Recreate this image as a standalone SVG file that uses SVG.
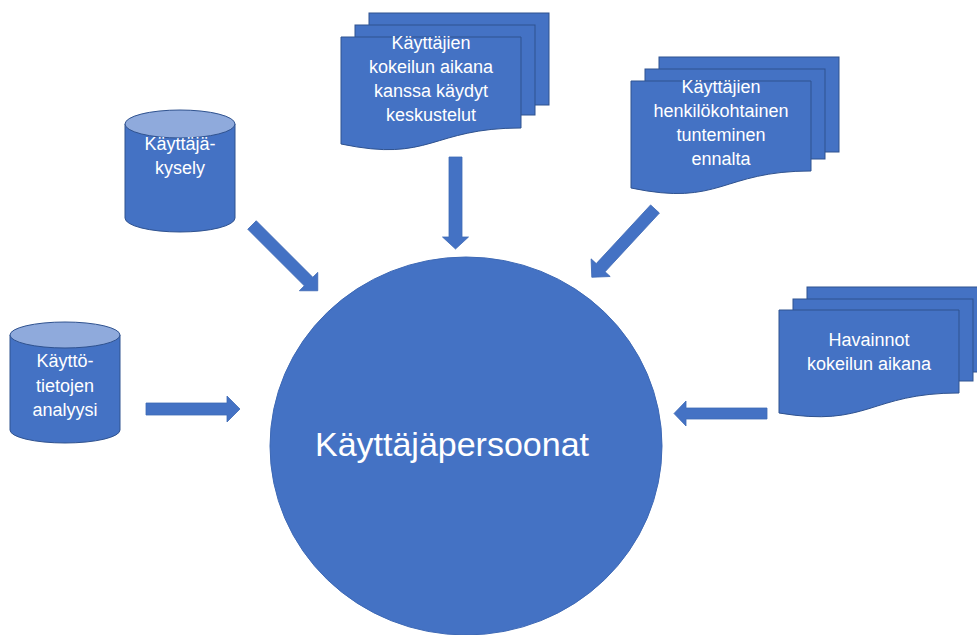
<svg xmlns="http://www.w3.org/2000/svg" width="977" height="635" viewBox="0 0 977 635">
  <style>
    .shape { fill: #4472C4; stroke: #2F528F; stroke-width: 1; }
    .cap { fill: #8FAADC; stroke: #2F528F; stroke-width: 1; }
    .hub { fill: #4472C4; stroke: #3E69B5; stroke-width: 1; }
    .arrow { fill: #4472C4; stroke: #3E69B5; stroke-width: 0.8; }
    .label { fill: #FFFFFF; font-family: "Liberation Sans", Arial, sans-serif; font-size: 18px; text-anchor: middle; }
    .title { fill: #FFFFFF; font-family: "Liberation Sans", Arial, sans-serif; font-size: 34px; text-anchor: middle; }
  </style>
  <rect width="977" height="635" fill="#FFFFFF"/>

  <!-- central node -->
  <g id="personas">
    <ellipse class="hub" cx="466" cy="446" rx="196" ry="189"/>
    <text class="title" x="452" y="456">Käyttäjäpersoonat</text>
  </g>

  <!-- survey cylinder -->
  <g id="survey">
    <path class="shape" d="M125,124 V218 A55,14 0 0 0 235,218 V124 Z"/>
    <ellipse class="cap" cx="180" cy="124" rx="55" ry="14"/>
    <text class="label" x="180" y="150">Käyttäjä-</text>
    <text class="label" x="180" y="174">kysely</text>
  </g>

  <!-- usage data cylinder -->
  <g id="usage-data">
    <path class="shape" d="M10,335 V430 A55,13 0 0 0 120,430 V335 Z"/>
    <ellipse class="cap" cx="65" cy="335" rx="55" ry="13"/>
    <text class="label" x="65" y="367">Käyttö-</text>
    <text class="label" x="65" y="392">tietojen</text>
    <text class="label" x="65" y="416">analyysi</text>
  </g>

  <!-- discussions document stack -->
  <g id="discussions">
    <rect class="shape" x="369" y="13" width="180" height="92"/>
    <rect class="shape" x="355" y="25" width="180" height="90"/>
    <path class="shape" d="M341,37 H521 V128 C431,128 431,163 341,144 Z"/>
    <text class="label" x="431" y="49">Käyttäjien</text>
    <text class="label" x="431" y="73">kokeilun aikana</text>
    <text class="label" x="431" y="97">kanssa käydyt</text>
    <text class="label" x="431" y="121">keskustelut</text>
  </g>

  <!-- prior knowledge document stack -->
  <g id="prior-knowledge">
    <rect class="shape" x="659" y="57" width="180" height="95"/>
    <rect class="shape" x="645" y="69" width="180" height="90"/>
    <path class="shape" d="M631,81 H811 V171 C721,171 721,207 631,188 Z"/>
    <text class="label" x="721" y="93">Käyttäjien</text>
    <text class="label" x="721" y="117">henkilökohtainen</text>
    <text class="label" x="721" y="141">tunteminen</text>
    <text class="label" x="721" y="165">ennalta</text>
  </g>

  <!-- observations document stack -->
  <g id="observations">
    <rect class="shape" x="807" y="287" width="180" height="85"/>
    <rect class="shape" x="793" y="299" width="180" height="82"/>
    <path class="shape" d="M779,310 H959 V393 C869,393 869,428 779,413 Z"/>
    <text class="label" x="869" y="346">Havainnot</text>
    <text class="label" x="869" y="370">kokeilun aikana</text>
  </g>

  <!-- block arrows towards the central node -->
  <g id="connectors">
    <polygon class="arrow" points="146,403 227,403 227,396 240,409 227,422 227,415 146,415"/>
    <polygon class="arrow" points="767,408 686,408 686,401 674,413.5 686,426 686,419 767,419"/>
    <polygon class="arrow" points="449,157 462,157 462,237 468.5,237 455.5,249 442.5,237 449,237"/>
    <polygon class="arrow" transform="translate(252,225) rotate(45)" points="0,-6 80,-6 80,-13 93,0 80,13 80,6 0,6"/>
    <polygon class="arrow" transform="translate(655,209) rotate(132.8)" points="0,-6 80,-6 80,-13 93,0 80,13 80,6 0,6"/>
  </g>
</svg>
